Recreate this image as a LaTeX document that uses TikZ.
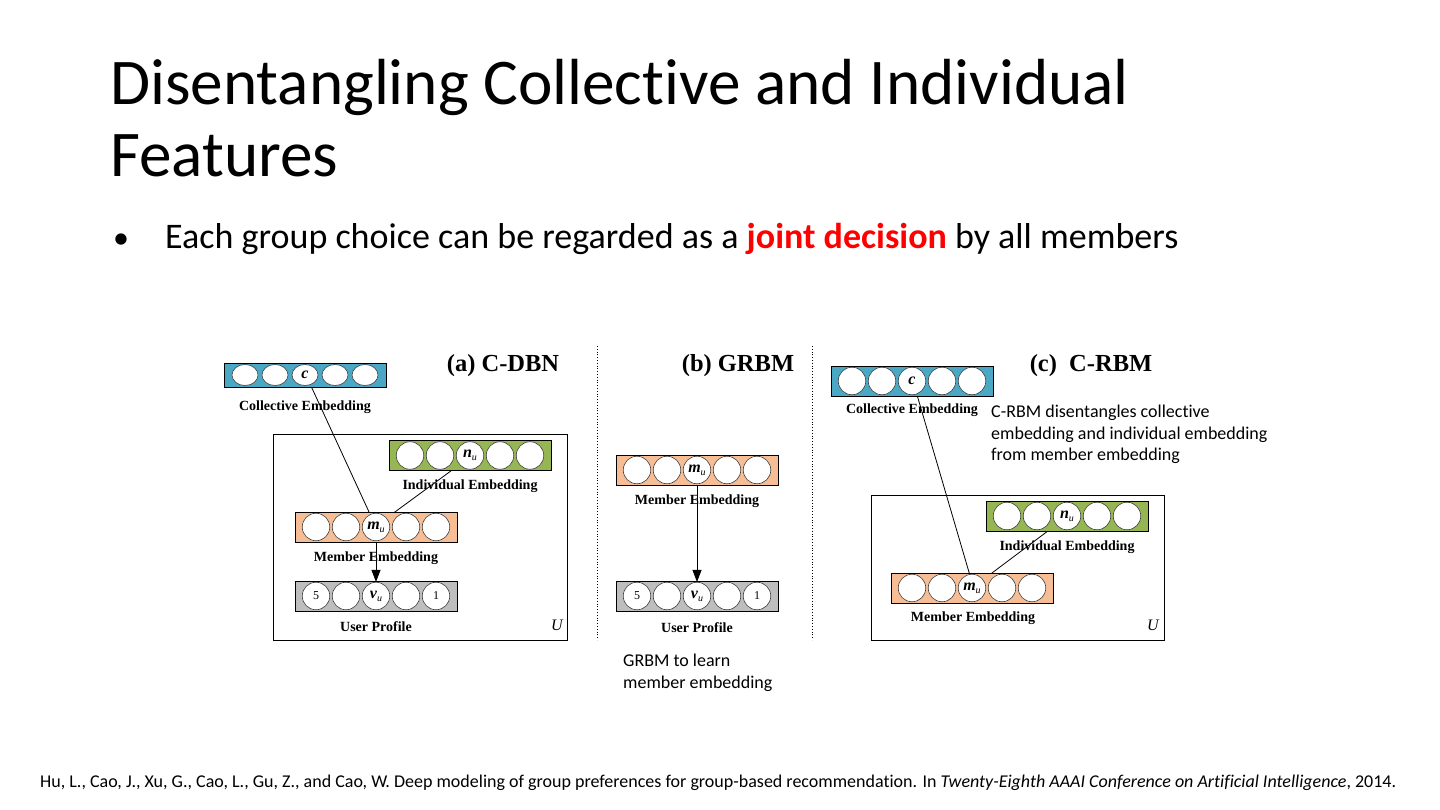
\documentclass[tikz,border=0pt]{standalone}
\usepackage{fontspec}
\setmainfont{Carlito}[Ligatures={NoCommon}]
\newfontfamily\tms{Liberation Serif}
\usetikzlibrary{calc,arrows.meta,shapes.geometric,backgrounds}
\definecolor{cblue}{RGB}{75,168,197}
\definecolor{cgreen}{RGB}{150,182,84}
\definecolor{corange}{RGB}{247,190,150}
\definecolor{cgray}{RGB}{190,190,190}
\definecolor{cred}{RGB}{255,0,0}
\newcommand\mkbar[8]{%
  \node[bar,#4] (#1) at (#2,#3) {};
  \node[unit,#5] (#1-1) at ($(#1)+(-60,0)$) {#6};
  \node[unit,#5] (#1-2) at ($(#1)+(-30,0)$) {};
  \node[unit,#5] (#1-3) at (#1) {#7};
  \node[unit,#5] (#1-4) at ($(#1)+(30,0)$) {};
  \node[unit,#5] (#1-5) at ($(#1)+(60,0)$) {#8};
}
\newcommand\lblc{{\tms\bfseries\itshape\fontsize{16}{16}\selectfont c}}
\newcommand\lblsub[1]{{\tms\fontsize{16}{16}\selectfont\bfseries\itshape #1\raisebox{-3pt}{\mdseries\fontsize{10}{10}\selectfont u}}}
\newcommand\lbld[1]{{\tms\fontsize{12}{12}\selectfont #1}}
\begin{document}
\begin{tikzpicture}[x=1pt,y=-1pt,
  bar/.style={draw=black, line width=0.9pt, minimum width=162pt, minimum height=30pt, inner sep=0pt},
  unit/.style={circle, draw=black!75, fill=white, line width=0.6pt, minimum size=27.5pt, inner sep=0pt},
  flat/.style={ellipse, minimum width=26pt, minimum height=21pt},
  lab/.style={font=\tms\bfseries\fontsize{14}{14}\selectfont, inner sep=0pt},
  ptitle/.style={font=\tms\bfseries\fontsize{24.5}{24.5}\selectfont, inner sep=0pt},
  conn/.style={line width=0.8pt},
  arr/.style={line width=0.8pt, -{Triangle[length=12pt,width=9pt]}},
  sepline/.style={dotted, line width=0.8pt},
  ubox/.style={draw=black, line width=0.9pt},
  slide/.style={inner sep=0pt, anchor=base west},
  note/.style={inner sep=0pt, anchor=north west, align=left, font=\fontsize{18}{21.5}\selectfont},
]
\useasboundingbox (0,0) rectangle (1440,810);

% slide texts
\node[slide, font=\fontsize{65.2}{66}\selectfont] (t1) at (110,105) {Disentangling Collective and Individual};
\node[slide, font=\fontsize{65.2}{66}\selectfont] (t2) at (110,177) {Features};
\node[slide, font=\fontsize{32}{32}\selectfont] (bul) at (113,249) {•};
\node[slide, font=\fontsize{36}{36}\selectfont] (btext) at (165,249) {Each group choice can be regarded as a \textcolor{cred}{\bfseries joint decision} by all members};
\node[slide, font=\fontsize{18}{18}\selectfont] (ref) at (40,787) {Hu, L., Cao, J., Xu, G., Cao, L., Gu, Z., and Cao, W. Deep modeling of group preferences for group-based recommendation. In \textit{Twenty-Eighth AAAI Conference on Artificial Intelligence}, 2014.};

% separators
\draw[sepline] (597,346) -- (597,640);
\draw[sepline] (812,346) -- (812,640);

% ---------- (a) C-DBN ----------
\draw[ubox] (273,434) rectangle (567,640);
\node[ptitle] (ta) at (503,366) {(a) C-DBN};
\mkbar{ca}{305}{375}{fill=cblue, minimum height=24pt}{flat}{}{\lblc}{}
\node[lab] (lca) at (305,407) {Collective Embedding};
\mkbar{na}{470}{455.5}{fill=cgreen}{}{}{\lblsub{n}}{}
\node[lab] (lna) at (470,486) {Individual Embedding};
\mkbar{ma}{376}{527}{fill=corange}{}{}{\lblsub{m}}{}
\node[lab] (lma) at (376,558) {Member Embedding};
\mkbar{ua}{376}{596}{fill=cgray}{}{\lbld{5}}{\lblsub{v}}{\lbld{1}}
\node[lab] (lua) at (376,627) {User Profile};
\node[inner sep=0pt, font=\tms\itshape\fontsize{16}{16}\selectfont] (Ua) at (557,625) {U};

% ---------- (b) GRBM ----------
\node[ptitle] (tb) at (738,366) {(b) GRBM};
\mkbar{mb}{697}{470}{fill=corange}{}{}{\lblsub{m}}{}
\node[lab] (lmb) at (697,501) {Member Embedding};
\mkbar{ub}{697}{596}{fill=cgray}{}{\lbld{5}}{\lblsub{v}}{\lbld{1}}
\node[lab] (lub) at (697,628) {User Profile};
\node[note] (nb) at (623,654) {GRBM to learn\\member embedding};

% ---------- (c) C-RBM ----------
\draw[ubox] (871,495) rectangle (1164,640);
\node[ptitle] (tc) at (1091,366) {(c)\ \ C-RBM};
\mkbar{cc}{912}{381}{fill=cblue}{}{}{\lblc}{}
\node[lab] (lcc) at (912,410) {Collective Embedding};
\node[note] (nc) at (991,405) {C-RBM disentangles collective\\embedding and individual embedding\\from member embedding};
\mkbar{nc3}{1067}{516}{fill=cgreen}{}{}{\lblsub{n}}{}
\node[lab] (lnc) at (1067,547) {Individual Embedding};
\mkbar{mc}{972}{588}{fill=corange}{}{}{\lblsub{m}}{}
\node[lab] (lmc) at (973,618) {Member Embedding};
\node[inner sep=0pt, font=\tms\itshape\fontsize{16}{16}\selectfont] (Uc) at (1153,625) {U};

% connectors behind the bars
\begin{pgfonlayer}{background}
\fill[white] (0,0) rectangle (1440,810);
\draw[conn] (ca-3.299) -- (ma-3.115);
\draw[conn] (na-3.221) -- (ma-3.40);
\draw[arr] (ma-3.south) -- (ua-3.north);
\draw[arr] (mb-3.south) -- (ub-3.north);
\draw[conn] (cc-3.290) -- (mc-3.100);
\draw[conn] (nc3-3.219) -- (mc-3.37);
\end{pgfonlayer}
\end{tikzpicture}
\end{document}
